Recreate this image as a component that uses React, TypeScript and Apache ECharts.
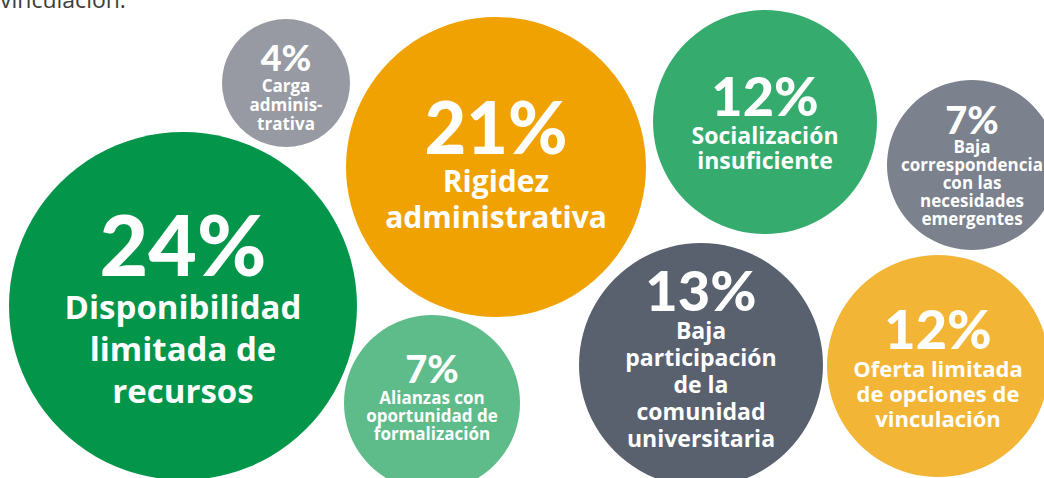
import React, { useEffect, useRef } from "react";
import * as echarts from "echarts";

// Data
const categories = [
  "Disponibilidad limitada de recursos",
  "Carga administrativa",
  "Rigidez administrativa",
  "Socialización insuficiente",
  "Baja correspondencia con las necesidades emergentes",
  "Baja participación de la comunidad universitaria",
  "Alianzas con oportunidad de formalización",
  "Oferta limitada de opciones de vinculación",
];
const values = [24, 4, 21, 12, 7, 13, 7, 12];
const labelLines = [
  ["Disponibilidad", "limitada de", "recursos"],
  ["Carga", "adminis-", "trativa"],
  ["Rigidez", "administrativa"],
  ["Socialización", "insuficiente"],
  ["Baja", "correspondencia", "con las", "necesidades", "emergentes"],
  ["Baja", "participación", "de la", "comunidad", "universitaria"],
  ["Alianzas con", "oportunidad de", "formalización"],
  ["Oferta limitada", "de opciones de", "vinculación"],
];

// Layout (bubble centres in axis units and radii in px)
const bubbleX = [183, 286, 496, 765, 972, 701, 432, 938];
const bubbleY = [306, 83, 167, 122, 165, 365, 403, 366];
const bubbleR = [174, 64, 150, 112, 85, 122, 88, 111];
const colors = ["#03954A", "#979AA3", "#F0A202", "#35AC6E", "#7B818D", "#59616F", "#5EBB8A", "#F2B535"];
// typography per bubble: [pctSize, pctLH, textSize, textLH]
const typo = [
  [84, 84, 33, 42],
  [36, 38, 17, 19],
  [72, 72, 30, 36],
  [54, 54, 23, 25],
  [38, 36, 17, 18],
  [56, 54, 23, 27],
  [38, 40, 17, 18],
  [54, 54, 22, 25],
];
const labelOffsetY = [0, 2, -5, -2, -1, -8, -8, 0];

const NUM_FONT = "Lato, 'Open Sans', sans-serif";
const TXT_FONT = "'Open Sans', Lato, sans-serif";

export default function App() {
  const ref = useRef<HTMLDivElement>(null);
  useEffect(() => {
    if (!ref.current) return;
    const chart = echarts.init(ref.current, null, { renderer: "svg" });
    const data = values.map((v, i) => ({
      name: categories[i],
      value: [bubbleX[i], bubbleY[i], v],
      itemStyle: { color: colors[i], opacity: 1 },
      label: {
        show: true,
        position: "inside",
        offset: [0, labelOffsetY[i]],
        formatter: () => `{p|${v}%}\n{t|${labelLines[i].join("\n")}}`,
        rich: {
          p: {
            fontFamily: NUM_FONT,
            fontWeight: 900,
            fontSize: typo[i][0],
            lineHeight: typo[i][1],
            color: "#ffffff",
            align: "center",
          },
          t: {
            fontFamily: TXT_FONT,
            fontWeight: "bold",
            fontSize: typo[i][2],
            lineHeight: typo[i][3],
            color: "#ffffff",
            align: "center",
          },
        },
      },
    }));
    chart.setOption({
      animation: false,
      grid: { left: 0, right: 0, top: 0, bottom: 0 },
      xAxis: { type: "value", min: 0, max: 1044, show: false },
      yAxis: { type: "value", min: 0, max: 478, inverse: true, show: false },
      graphic: [
        {
          type: "text",
          left: 0,
          top: -13,
          style: {
            text: "vinculación.",
            font: `23px ${TXT_FONT}`,
            fill: "#3d3d3d",
          },
        },
      ],
      series: [
        {
          type: "scatter",
          data,
          symbol: "circle",
          symbolSize: (_v: any, p: any) => bubbleR[p.dataIndex] * 2,
          itemStyle: { opacity: 1 },
          emphasis: { disabled: true },
        },
      ],
    });
    return () => chart.dispose();
  }, []);
  return (
    <div
      ref={ref}
      style={{ position: "fixed", left: 0, top: 0, width: 1044, height: 478, background: "#ffffff" }}
    />
  );
}
